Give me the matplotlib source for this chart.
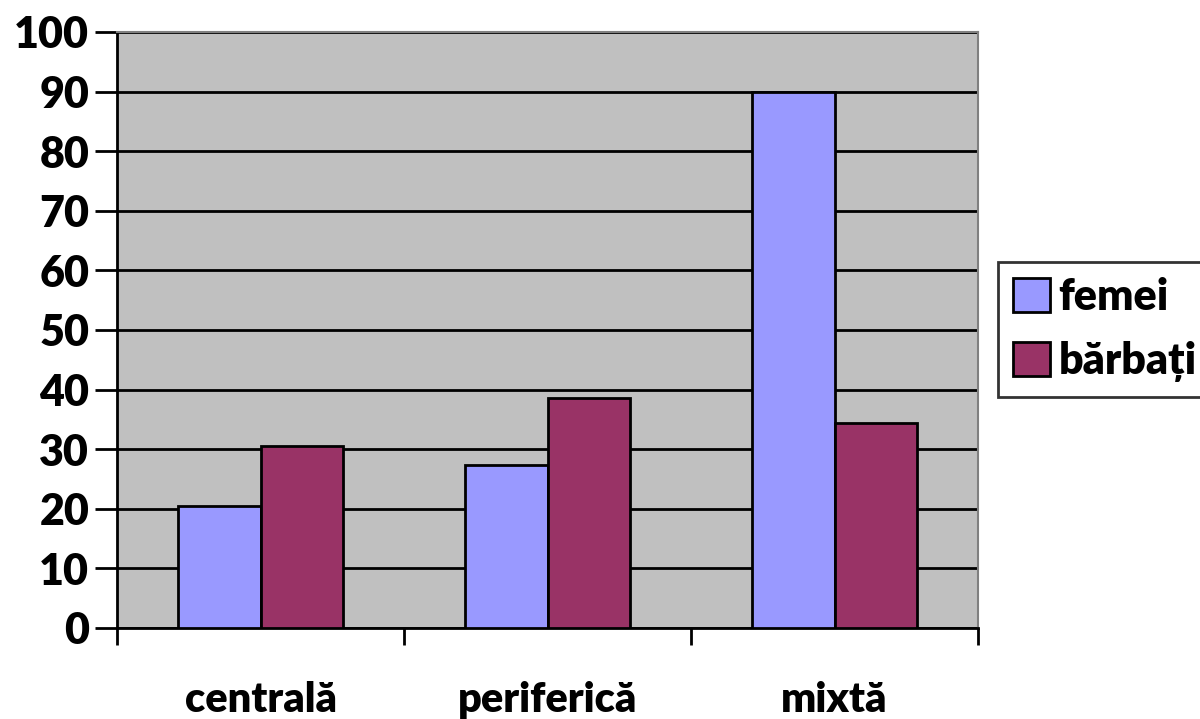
import matplotlib.pyplot as plt
import numpy as np

plt.rcParams['font.family'] = ['Lato', 'DejaVu Sans']
plt.rcParams['font.weight'] = 'heavy'

categories = ['centrală', 'periferică', 'mixtă']
femei = [20.4, 27.4, 90.0]
barbati = [30.6, 38.6, 34.4]
series_names = ['femei', 'bărbați']

fig = plt.figure(figsize=(12, 7.19), dpi=100)
ax = fig.add_axes([117 / 1200, 91 / 719, 861 / 1200, 596 / 719])
ax.set_facecolor('#C0C0C0')

x = np.arange(len(categories))
w = 0.288
ax.bar(x - w / 2, femei, w, color='#9999FF', edgecolor='black', linewidth=2,
       label=series_names[0], zorder=3)
ax.bar(x + w / 2, barbati, w, color='#993366', edgecolor='black', linewidth=2,
       label=series_names[1], zorder=3)

ax.set_xlim(-0.5, len(categories) - 0.5)
ax.set_ylim(0, 100)
ax.set_yticks(np.arange(0, 101, 10))
ax.yaxis.grid(True, color='black', linewidth=2)
ax.set_axisbelow(True)
ax.tick_params(axis='y', labelsize=31, length=16, width=2, pad=4)

# category boundaries get the tick marks, names sit at the centres
ax.set_xticks(np.arange(len(categories) + 1) - 0.5)
ax.set_xticklabels([])
ax.tick_params(axis='x', which='major', length=12, width=2)
ax.set_xticks(x, minor=True)
ax.set_xticklabels(categories, minor=True)
ax.tick_params(axis='x', which='minor', length=0, labelsize=30, pad=38)

for s in ['left', 'bottom']:
    ax.spines[s].set_linewidth(2)
    ax.spines[s].set_color('black')
for s in ['top', 'right']:
    ax.spines[s].set_linewidth(1.5)
    ax.spines[s].set_color('#808080')

leg = fig.legend(loc='upper left', bbox_to_anchor=(998 / 1200, 1 - 262 / 719),
                 fontsize=31, frameon=True, fancybox=False, borderpad=0.35,
                 handlelength=0.85, handleheight=0.85, handletextpad=0.2,
                 labelspacing=0.55, borderaxespad=0)
leg.get_frame().set_edgecolor('black')
leg.get_frame().set_linewidth(2)

fig.savefig('out.png', dpi=100)
